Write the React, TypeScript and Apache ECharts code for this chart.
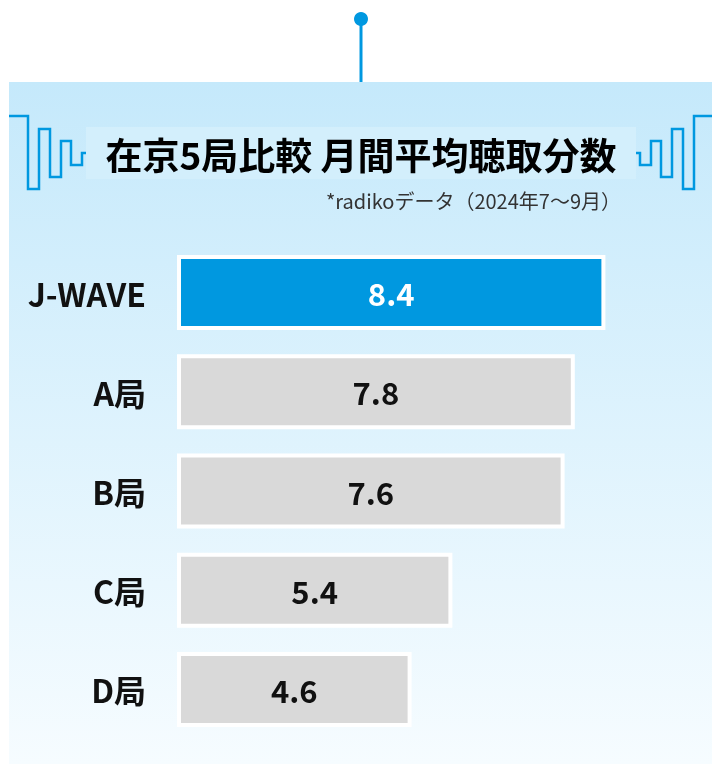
import React, { useEffect, useRef } from "react";
import * as echarts from "echarts";

const categories = ["J-WAVE", "A局", "B局", "C局", "D局"];
const values = [8.4, 7.8, 7.6, 5.4, 4.6];
const highlightIndex = 0;
const titleText = "在京5局比較 月間平均聴取分数";
const subtitleText = "*radikoデータ（2024年7〜9月）";

const FONT = "'Noto Sans CJK JP', 'Noto Sans', sans-serif";
const BLUE = "#0098e0";

const leftWave: number[][] = [
  [9, 116], [28, 116], [28, 189], [39, 189], [39, 129], [50, 129], [50, 177],
  [61, 177], [61, 141], [71, 141], [71, 165], [82, 165], [82, 153], [86, 153],
];
const rightWave = leftWave.map(([x, y]) => [722 - x, y]);

export default function App() {
  const ref = useRef<HTMLDivElement>(null);
  useEffect(() => {
    if (!ref.current) return;
    const chart = echarts.init(ref.current, undefined, { renderer: "svg" });
    chart.setOption({
      animation: false,
      graphic: [
        {
          type: "rect",
          z: 0,
          shape: { x: 9, y: 82, width: 703, height: 682 },
          style: {
            fill: new echarts.graphic.LinearGradient(0, 0, 0, 1, [
              { offset: 0, color: "#c5e9fb" },
              { offset: 1, color: "#f6fcff" },
            ]),
          },
        },
        {
          type: "line",
          z: 1,
          shape: { x1: 361, y1: 20, x2: 361, y2: 82 },
          style: { stroke: BLUE, lineWidth: 3 },
        },
        {
          type: "circle",
          z: 1,
          shape: { cx: 361, cy: 19, r: 7 },
          style: { fill: BLUE },
        },
        {
          type: "polyline",
          z: 1,
          shape: { points: leftWave },
          style: { stroke: BLUE, lineWidth: 2.5, fill: null },
        },
        {
          type: "polyline",
          z: 1,
          shape: { points: rightWave },
          style: { stroke: BLUE, lineWidth: 2.5, fill: null },
        },
        {
          type: "rect",
          z: 1,
          shape: { x: 86, y: 127, width: 550, height: 52 },
          style: { fill: "#d3effc" },
        },
        {
          type: "text",
          z: 2,
          x: 361,
          y: 154,
          style: {
            text: titleText,
            font: `bold 37px ${FONT}`,
            fill: "#000",
            align: "center",
            verticalAlign: "middle",
          },
        },
        {
          type: "text",
          z: 2,
          x: 621,
          y: 200,
          style: {
            text: subtitleText,
            font: `normal 20px ${FONT}`,
            fill: "#333",
            align: "right",
            verticalAlign: "middle",
          },
        },
      ],
      grid: { left: 177, top: 243, width: 510, height: 496, containLabel: false },
      xAxis: {
        type: "value",
        min: 0,
        max: 10,
        show: false,
      },
      yAxis: {
        type: "category",
        data: categories,
        inverse: true,
        axisLine: { show: false },
        axisTick: { show: false },
        splitLine: { show: false },
        axisLabel: {
          margin: 31,
          color: "#111",
          fontFamily: FONT,
          fontWeight: "bold",
          fontSize: 32,
        },
      },
      series: [
        {
          type: "bar",
          barWidth: 75,
          z: 3,
          data: values.map((v, i) => ({
            value: v,
            itemStyle: { color: i === highlightIndex ? BLUE : "#d9d9d9" },
            label: { color: i === highlightIndex ? "#fff" : "#111" },
          })),
          itemStyle: { borderColor: "#fff", borderWidth: 4 },
          label: {
            show: true,
            position: "inside",
            fontFamily: FONT,
            fontWeight: "bold",
            fontSize: 31,
            formatter: (p: any) => Number(p.value).toFixed(1),
          },
        },
      ],
    });
    return () => chart.dispose();
  }, []);
  return (
    <div
      ref={ref}
      style={{ position: "fixed", left: 0, top: 0, width: 712, height: 764 }}
    />
  );
}
